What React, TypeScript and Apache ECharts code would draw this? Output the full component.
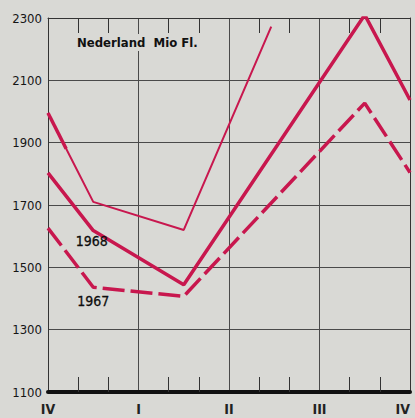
import React, { useEffect, useRef } from 'react';
import * as echarts from 'echarts';

const quarterLabels = ['IV', 'I', 'II', 'III', 'IV'];
const yMin = 1100;
const yMax = 2300;
const yStep = 200;

const x1969 = [0, 1.5, 4.5, 7.4];
const v1969 = [1995, 1710, 1620, 2272];
const x1968 = [0, 1.5, 4.5, 10.5, 12];
const v1968 = [1803, 1618, 1444, 2310, 2037];
const x1967 = [0, 1.5, 4.5, 10.5, 12];
const v1967 = [1626, 1436, 1407, 2027, 1804];
const yearNames = ['1968', '1967'];
const yearX = [1.45, 1.5];
const yearY = [1585, 1393];
const title = 'Nederland  Mio Fl.';

const RED = '#c8174e';
const GRID = '#4a4a4a';
const BG = '#d9d9d5';
const FONT = '"DejaVu Sans Condensed", "DejaVu Sans", sans-serif';

const pairs = (xs: number[], vs: number[]) => xs.map((x, i) => [x, vs[i]]);

export default function App() {
  const ref = useRef<HTMLDivElement>(null);
  useEffect(() => {
    document.body.style.margin = '0';
    const chart = echarts.init(ref.current!, undefined, { renderer: 'svg' });
    const minorTick = { show: true, splitNumber: 3, length: 15, lineStyle: { color: '#333', width: 1 } };
    chart.setOption({
      animation: false,
      backgroundColor: BG,
      grid: { left: 48, top: 18, width: 362, height: 374, outerBoundsMode: 'none', containLabel: false },
      xAxis: [
        {
          type: 'value', min: 0, max: 12, interval: 3, position: 'bottom',
          axisLine: { show: true, onZero: false, lineStyle: { color: '#111', width: 4 } },
          axisTick: { show: false, inside: true },
          minorTick,
          splitLine: { show: true, lineStyle: { color: GRID, width: 1 } },
          axisLabel: {
            margin: 10, fontSize: 14, fontWeight: 'bold', color: '#222', fontFamily: FONT,
            alignMaxLabel: 'right',
            formatter: (v: number) => quarterLabels[Math.round(v / 3)] ?? '',
          },
        },
        {
          type: 'value', min: 0, max: 12, interval: 3, position: 'top',
          axisLine: { show: true, onZero: false, lineStyle: { color: '#333', width: 1 } },
          axisTick: { show: false, inside: true },
          minorTick,
          splitLine: { show: false },
          axisLabel: { show: false },
        },
      ],
      yAxis: [
        {
          type: 'value', min: yMin, max: yMax, interval: yStep, position: 'left',
          axisLine: { show: true, onZero: false, lineStyle: { color: '#333', width: 1 } },
          axisTick: { show: false },
          splitLine: { show: true, lineStyle: { color: GRID, width: 1 } },
          axisLabel: {
            margin: 6, fontSize: 13, color: '#151515', fontFamily: FONT,
            formatter: (v: number) => String(v),
          },
        },
        {
          type: 'value', min: yMin, max: yMax, interval: yStep, position: 'right',
          axisLine: { show: true, onZero: false, lineStyle: { color: '#333', width: 1 } },
          axisTick: { show: false },
          splitLine: { show: false },
          axisLabel: { show: false },
        },
      ],
      graphic: [
        {
          type: 'text', left: 75, top: 34, z: 50,
          style: {
            text: title, fontSize: 13, fontWeight: 'bold', fontFamily: FONT, fill: '#111',
            backgroundColor: BG, padding: [2, 2],
          },
        },
      ],
      series: [
        {
          type: 'line', data: pairs(x1969, v1969), symbol: 'none', z: 5,
          lineStyle: { color: RED, width: 2 },
        },
        {
          type: 'line', data: pairs(x1969, v1969), symbol: 'none', z: 5,
          lineStyle: { color: RED, width: 3.5, type: [40, 2000] },
        },
        {
          type: 'line', data: pairs(x1968, v1968), symbol: 'none', z: 5,
          lineStyle: { color: RED, width: 3.5 },
        },
        {
          type: 'line', data: pairs(x1967, v1967), symbol: 'none', z: 5,
          lineStyle: { color: RED, width: 3.5, type: [22, 6] },
        },
        {
          type: 'scatter', symbolSize: 0.1, itemStyle: { color: BG, opacity: 1 }, z: 6,
          data: yearNames.map((n, i) => [yearX[i], yearY[i], n]),
          label: {
            show: true, position: 'inside', fontSize: 14, color: '#0d0d0d', opacity: 1,
            fontFamily: FONT, textBorderWidth: 0.3, textBorderColor: '#0d0d0d',
            formatter: (p: any) => p.data[2],
          },
        },
      ],
    });
    return () => chart.dispose();
  }, []);
  return <div ref={ref} style={{ position: 'fixed', left: 0, top: 0, width: 415, height: 418 }} />;
}
